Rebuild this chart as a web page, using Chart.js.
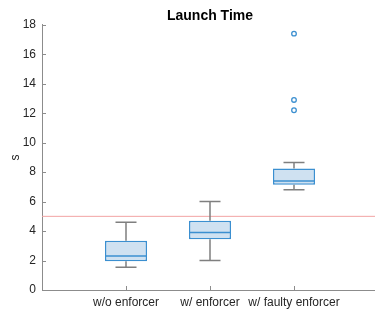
<!DOCTYPE html>
<html>
<head>
<meta charset="utf-8">
<script src="https://cdn.jsdelivr.net/npm/chart.js@4"></script>
<style>
    html, body { margin: 0; padding: 0; background: #fff; overflow: hidden; }
</style>
</head>
<body>
<canvas id="launch-chart" width="378" height="314"></canvas>
<script>
// --- data --- //
const categories = ["w/o enforcer", "w/ enforcer", "w/ faulty enforcer"];
const whiskerLow = [1.55, 2.0, 6.8];
const q1 = [1.95, 3.45, 7.15];
const medians = [2.3, 3.9, 7.4];
const q3 = [3.35, 4.7, 8.25];
const whiskerHigh = [4.6, 6.0, 8.65];
const outliers = [[], [], [17.4, 12.9, 12.2]];
const threshold = 5;
const yTicks = [0, 2, 4, 6, 8, 10, 12, 14, 16, 18];

const blue = '#3b8fd0';
const boxFill = '#cfe1f1';
const whiskerGray = '#7f7f7f';
const axisGray = '#8c8c8c';
const textGray = '#262626';
const fontFamily = "'Liberation Sans', Arial, Helvetica, sans-serif";

// build datasets from the arrays above
const boxData = categories.map((c, i) => ({ x: i + 1, y: [q1[i], q3[i]] }));
const outlierData = [];
outliers.forEach((list, i) => list.forEach(v => outlierData.push({ x: i + 1, y: v })));
const thresholdData = [{ x: 0, y: threshold }, { x: categories.length + 1, y: threshold }];

// whiskers, caps, medians and inward ticks
const boxExtras = {
    id: 'boxExtras',
    afterDatasetsDraw(chart) {
        const ctx = chart.ctx;
        const xs = chart.scales.x;
        const ys = chart.scales.y;
        const area = chart.chartArea;
        const boxes = chart.getDatasetMeta(0).data;

        ctx.save();
        ctx.lineWidth = 1.5;
        categories.forEach((c, i) => {
            const x = xs.getPixelForValue(i + 1);
            const capHalf = xs.getPixelForValue(i + 1.125) - x;
            const boxHalf = boxes[i].width / 2;

            ctx.strokeStyle = whiskerGray;
            ctx.beginPath();
            ctx.moveTo(x, ys.getPixelForValue(q3[i]));
            ctx.lineTo(x, ys.getPixelForValue(whiskerHigh[i]));
            ctx.moveTo(x, ys.getPixelForValue(q1[i]));
            ctx.lineTo(x, ys.getPixelForValue(whiskerLow[i]));
            ctx.moveTo(x - capHalf, ys.getPixelForValue(whiskerHigh[i]));
            ctx.lineTo(x + capHalf, ys.getPixelForValue(whiskerHigh[i]));
            ctx.moveTo(x - capHalf, ys.getPixelForValue(whiskerLow[i]));
            ctx.lineTo(x + capHalf, ys.getPixelForValue(whiskerLow[i]));
            ctx.stroke();

            ctx.strokeStyle = blue;
            ctx.beginPath();
            ctx.moveTo(x - boxHalf, ys.getPixelForValue(medians[i]));
            ctx.lineTo(x + boxHalf, ys.getPixelForValue(medians[i]));
            ctx.stroke();
        });

        // matlab style ticks pointing into the plot
        ctx.strokeStyle = axisGray;
        ctx.lineWidth = 1;
        ctx.beginPath();
        ys.ticks.forEach(t => {
            const y = Math.round(ys.getPixelForValue(t.value)) + 0.5;
            ctx.moveTo(area.left, y);
            ctx.lineTo(area.left + 4, y);
        });
        xs.ticks.forEach(t => {
            const x = Math.round(xs.getPixelForValue(t.value)) + 0.5;
            ctx.moveTo(x, area.bottom);
            ctx.lineTo(x, area.bottom - 4);
        });
        ctx.stroke();
        ctx.restore();
    }
};

const launchCanvas = document.getElementById("launch-chart");

let launchChart = new Chart(launchCanvas, {
    type: 'bar',
    data: {
        datasets: [{
            type: 'bar',
            data: boxData,
            backgroundColor: boxFill,
            borderColor: blue,
            borderWidth: 1.5,
            borderSkipped: false,
            barPercentage: 0.5,
            categoryPercentage: 1,
            order: 2
        }, {
            type: 'scatter',
            data: outlierData,
            pointStyle: 'circle',
            pointRadius: 2.3,
            pointBorderWidth: 1.3,
            pointBorderColor: blue,
            pointBackgroundColor: '#fff',
            order: 1
        }, {
            type: 'line',
            data: thresholdData,
            borderColor: '#f2a3a3',
            borderWidth: 1,
            pointRadius: 0,
            order: 3
        }]
    },
    options: {
        responsive: false,
        animation: false,
        layout: { padding: 0, autoPadding: false },
        scales: {
            x: {
                type: 'linear',
                offset: false,
                min: 0,
                max: categories.length + 1,
                afterBuildTicks: scale => {
                    scale.ticks = categories.map((c, i) => ({ value: i + 1 }));
                },
                afterFit: scale => { scale.height = 24; },
                grid: { display: false, offset: false, drawTicks: false },
                border: { display: true, color: axisGray, width: 1 },
                ticks: {
                    autoSkip: false,
                    maxRotation: 0,
                    padding: 5,
                    color: textGray,
                    font: { family: fontFamily, size: 12 },
                    callback: v => categories[v - 1]
                }
            },
            y: {
                min: 0,
                max: 18,
                afterBuildTicks: scale => {
                    scale.ticks = yTicks.map(v => ({ value: v }));
                },
                afterFit: scale => { scale.width = 42; },
                grid: { display: false, drawTicks: false },
                border: { display: true, color: axisGray, width: 1 },
                ticks: {
                    padding: 6,
                    color: textGray,
                    font: { family: fontFamily, size: 12 }
                },
                title: {
                    display: true,
                    text: 's',
                    color: textGray,
                    padding: { top: 8, bottom: 0 },
                    font: { family: fontFamily, size: 12 }
                }
            }
        },
        plugins: {
            legend: { display: false },
            tooltip: { enabled: false },
            title: {
                display: true,
                fullSize: false,
                text: 'Launch Time',
                color: '#000',
                padding: { top: 8, bottom: 0 },
                font: { family: fontFamily, size: 14, weight: 'bold' }
            }
        }
    },
    plugins: [boxExtras]
});
</script>
</body>
</html>
